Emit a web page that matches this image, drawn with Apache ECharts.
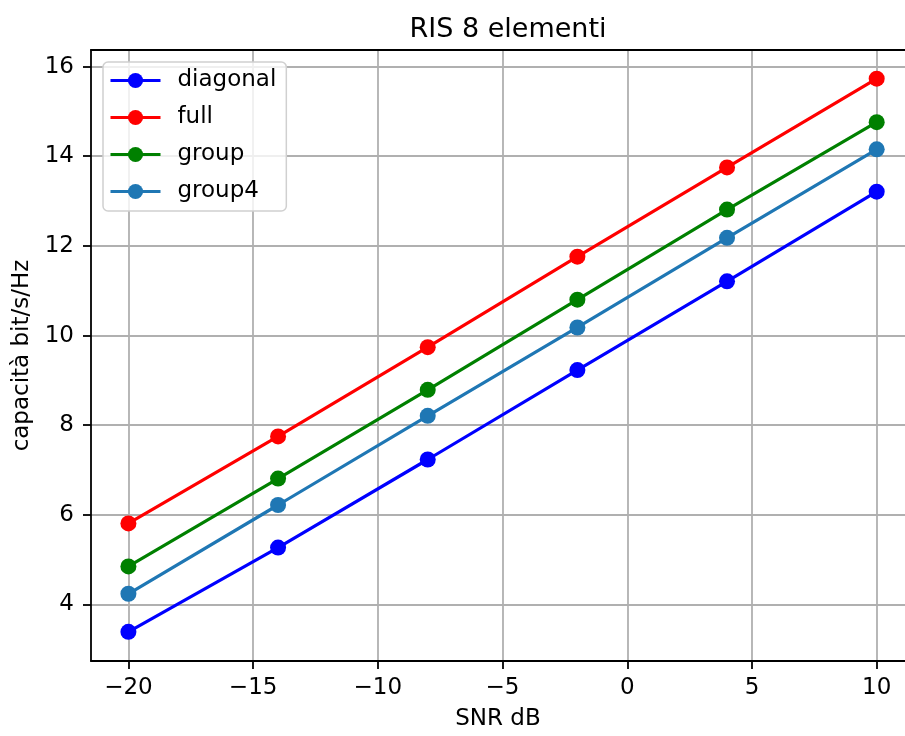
<!DOCTYPE html>
<html>
<head>
<meta charset="utf-8">
<script src="https://cdn.jsdelivr.net/npm/echarts@6/dist/echarts.min.js"></script>
<style>html,body{margin:0;padding:0;background:#fff;}#c{width:905px;height:736px;}</style>
</head>
<body>
<div id="c"></div>
<script>
const snr = [-20, -14, -8, -2, 4, 10];
const diagonal = [3.39, 5.27, 7.235, 9.23, 11.21, 13.21];
const full = [5.81, 7.75, 9.74, 11.76, 13.75, 15.73];
const group = [4.85, 6.81, 8.79, 10.8, 12.81, 14.76];
const group4 = [4.24, 6.22, 8.21, 10.18, 12.18, 14.155];
const xTicks = [-20, -15, -10, -5, 0, 5, 10];
const yTicks = [4, 6, 8, 10, 12, 14, 16];
const names = ['diagonal', 'full', 'group', 'group4'];
const colors = ['#0000ff', '#ff0000', '#008000', '#1f77b4'];
const values = [diagonal, full, group, group4];

const FONT = 'DejaVu Sans';
const chart = echarts.init(document.getElementById('c'), null, {renderer: 'canvas'});
const fmt = v => (v < 0 ? '\u2212' + Math.abs(v) : String(v));
const spine = {color: '#000', width: 1.8};

chart.setOption({
  animation: false,
  backgroundColor: '#ffffff',
  textStyle: {fontFamily: FONT},
  title: {
    text: 'RIS 8 elementi',
    left: 503, top: 11, textAlign: 'center',
    textStyle: {fontFamily: FONT, fontSize: 27, fontWeight: 'normal', color: '#000'}
  },
  legend: {
    orient: 'vertical', left: 103, top: 62,
    itemWidth: 50, itemHeight: 19, itemGap: 14,
    padding: [7, 10, 8, 6],
    backgroundColor: 'rgba(255,255,255,0.8)',
    borderColor: '#d0d0d0', borderWidth: 1.5, borderRadius: 5,
    lineStyle: {width: 3},
    textStyle: {fontFamily: FONT, fontSize: 23, color: '#000', padding: [0, 0, 0, 12]},
    data: names
  },
  grid: {
    left: 91, top: 50, right: 0, height: 615,
    show: false
  },
  xAxis: [{
    type: 'value', min: -21.5, max: 11.135, minInterval: 5, maxInterval: 5,
    name: 'SNR dB', nameLocation: 'middle', nameGap: 47,
    nameTextStyle: {fontFamily: FONT, fontSize: 23, color: '#000'},
    axisLine: {show: true, onZero: false, lineStyle: spine},
    axisTick: {show: true, inside: false, length: 8, customValues: xTicks, lineStyle: spine},
    axisLabel: {show: true, margin: 16, customValues: xTicks, fontFamily: FONT, fontSize: 23, color: '#000', formatter: fmt},
    splitLine: {show: true, lineStyle: {color: '#b0b0b0', width: 1.8}}
  }, {
    type: 'value', position: 'top', min: -21.5, max: 11.135,
    axisLine: {show: true, onZero: false, lineStyle: spine},
    axisTick: {show: false}, axisLabel: {show: false}, splitLine: {show: false}
  }],
  yAxis: {
    type: 'value', min: 2.74, max: 16.37, minInterval: 2, maxInterval: 2,
    name: 'capacità bit/s/Hz', nameLocation: 'middle', nameGap: 57,
    nameTextStyle: {fontFamily: FONT, fontSize: 23, color: '#000'},
    axisLine: {show: true, onZero: false, lineStyle: spine},
    axisTick: {show: true, inside: false, length: 8, customValues: yTicks, lineStyle: spine},
    axisLabel: {show: true, margin: 17, customValues: yTicks, fontFamily: FONT, fontSize: 23, color: '#000', formatter: fmt},
    splitLine: {show: true, lineStyle: {color: '#b0b0b0', width: 1.8}}
  },
  series: names.map((n, i) => ({
    name: n, type: 'line', xAxisIndex: 0,
    data: snr.map((x, j) => [x, values[i][j]]),
    symbol: 'circle', symbolSize: 16, showSymbol: true,
    lineStyle: {color: colors[i], width: 3.2},
    itemStyle: {color: colors[i], borderWidth: 0},
    emphasis: {disabled: true},
    z: 3 + i
  }))
});
</script>
</body>
</html>
